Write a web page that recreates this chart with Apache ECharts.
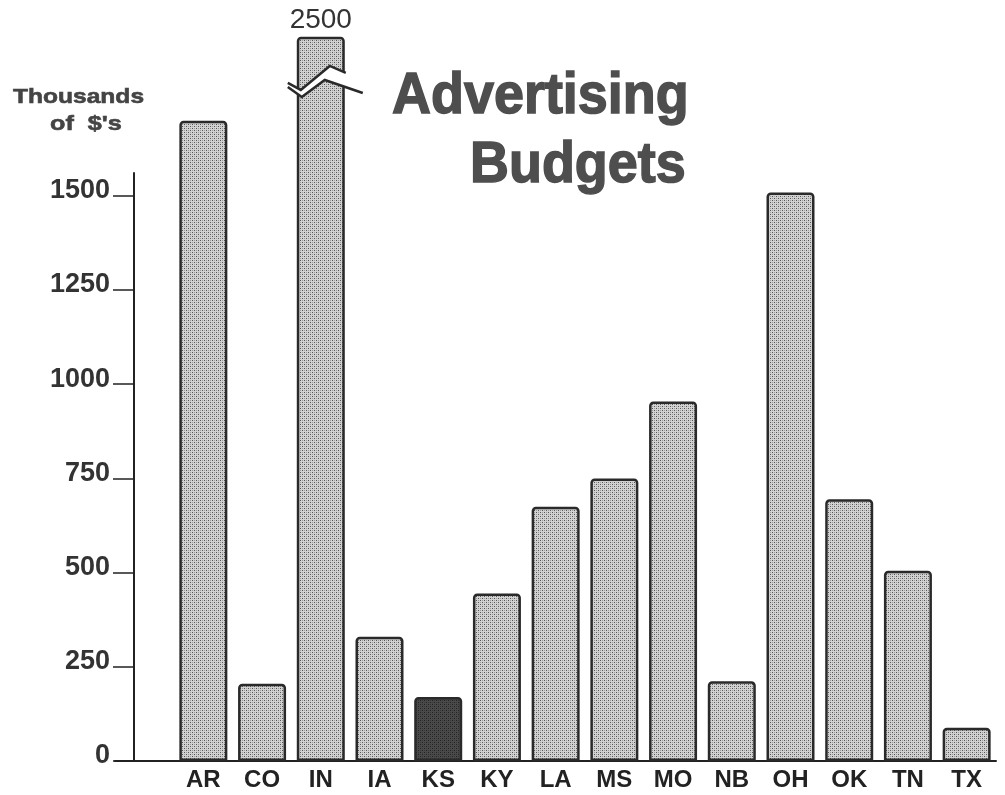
<!DOCTYPE html>
<html>
<head>
<meta charset="utf-8">
<script src="https://cdn.jsdelivr.net/npm/echarts@6/dist/echarts.min.js"></script>
<style>
  html, body { margin: 0; padding: 0; background: #fff; }
  #chart { width: 1005px; height: 795px; }
</style>
</head>
<body>
<div id="chart"></div>
<script>
// data (thousands of $)
const states = ['AR', 'CO', 'IN', 'IA', 'KS', 'KY', 'LA', 'MS', 'MO', 'NB', 'OH', 'OK', 'TN', 'TX'];
const budgets = [1700, 205, 2500, 330, 170, 445, 675, 750, 955, 212, 1510, 695, 505, 88];
const yTicks = [0, 250, 500, 750, 1000, 1250, 1500];
const darkState = 'KS';
const brokenState = 'IN';

// stipple fill like the old halftone print
function stipple(base, dot, mid) {
  const c = document.createElement('canvas');
  c.width = 4; c.height = 4;
  const ctx = c.getContext('2d');
  ctx.fillStyle = base; ctx.fillRect(0, 0, 4, 4);
  ctx.fillStyle = dot; ctx.fillRect(0, 0, 1, 1); ctx.fillRect(2, 2, 1, 1);
  ctx.fillStyle = mid; ctx.fillRect(2, 0, 1, 1); ctx.fillRect(0, 2, 1, 1);
  return { image: c, repeat: 'repeat' };
}
const lightFill = stipple('#d2d2d2', '#555555', '#9c9c9c');
const darkFill = stipple('#4a4a4a', '#222222', '#363636');

const barData = budgets.map((v, i) => {
  const item = { value: v };
  if (states[i] === darkState) item.itemStyle = { color: darkFill };
  if (states[i] === brokenState) item.label = { show: true };
  return item;
});

const chart = echarts.init(document.getElementById('chart'));
const font = 'Liberation Sans, Arial, Helvetica, sans-serif';

function heading(text, x, y, size, sx, fill, stroke) {
  return {
    type: 'text', x: x, y: y, scaleX: sx,
    style: {
      text: text, font: 'bold ' + size + 'px ' + font, fill: fill,
      stroke: fill, lineWidth: stroke,
      textAlign: 'left', textVerticalAlign: 'middle', align: 'left', verticalAlign: 'middle'
    }
  };
}

chart.setOption({
  animation: false,
  backgroundColor: '#fff',
  grid: [
    { left: 174, right: 9, top: 38, bottom: 34 },   // bars
    { left: 115, right: 9, top: 173, bottom: 34 }   // visible axes
  ],
  xAxis: [
    {
      gridIndex: 0, type: 'category', data: states,
      axisLine: { show: false }, axisTick: { show: false },
      axisLabel: { margin: 7, fontFamily: font, fontWeight: 'bold', fontSize: 24, color: '#222' }
    },
    {
      gridIndex: 1, type: 'value', min: 0, max: 1,
      axisLine: { show: true, lineStyle: { color: '#222', width: 2 } },
      axisTick: { show: false }, axisLabel: { show: false }, splitLine: { show: false }
    }
  ],
  yAxis: [
    { gridIndex: 0, type: 'value', min: 0, max: 1920, show: false, splitLine: { show: false } },
    {
      gridIndex: 1, type: 'value', min: 0, max: 1560, interval: 250, offset: -19,
      axisLine: { show: true, lineStyle: { color: '#222', width: 2 } },
      axisTick: { show: true, length: 21, customValues: yTicks, lineStyle: { color: '#222', width: 1.5 } },
      axisLabel: {
        customValues: yTicks, margin: 24, fontFamily: font, fontWeight: 'bold',
        fontSize: 27, color: '#333', verticalAlign: 'bottom', lineHeight: 10,
        formatter: v => String(v)
      },
      splitLine: { show: false }
    }
  ],
  graphic: [
    heading('Advertising', 392, 97, 58, 0.93, '#4e4e4e', 1.5),
    heading('Budgets', 470, 166, 58, 0.93, '#4e4e4e', 1.5),
    heading('Thousands', 13, 97, 21, 1.17, '#444', 0.6),
    heading("of  $'s", 50, 124, 21, 1.2, '#444', 0.6)
  ],
  series: [
    {
      type: 'bar', xAxisIndex: 0, yAxisIndex: 0, data: barData,
      barWidth: 48, clip: true,
      itemStyle: { color: lightFill, borderColor: '#2a2a2a', borderWidth: 2.5, borderRadius: [3, 3, 0, 0] },
      label: {
        show: false, position: 'top', distance: 2,
        fontFamily: font, fontSize: 28, color: '#333'
      }
    },
    {
      // zigzag break drawn across the clipped bar
      type: 'custom', xAxisIndex: 0, yAxisIndex: 0, z: 5,
      data: [[states.indexOf(brokenState), 1790]],
      renderItem(params, api) {
        const p = api.coord([api.value(0), api.value(1)]);
        const up = [[-33, -4], [-20, 3], [9, -21], [25, -14]].map(d => [p[0] + d[0], p[1] + d[1]]);
        const lo = [[-33, 0], [-19, 10], [4, -7], [42, 6]].map(d => [p[0] + d[0], p[1] + d[1]]);
        return {
          type: 'group',
          children: [
            { type: 'polygon', shape: { points: up.concat(lo.slice().reverse()) }, style: { fill: '#fff' } },
            { type: 'polyline', shape: { points: up }, style: { stroke: '#2a2a2a', lineWidth: 2.5, fill: null } },
            { type: 'polyline', shape: { points: lo }, style: { stroke: '#2a2a2a', lineWidth: 2.5, fill: null } }
          ]
        };
      }
    }
  ]
});
</script>
</body>
</html>
